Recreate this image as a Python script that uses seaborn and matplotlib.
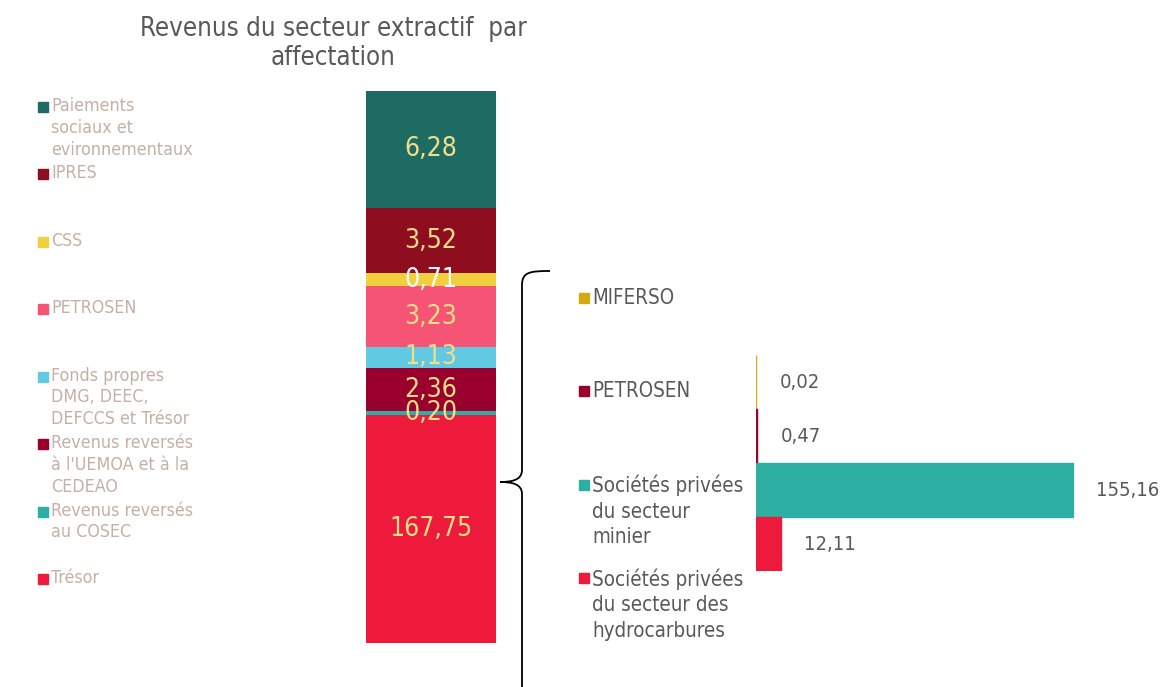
import numpy as np
import pandas as pd
import seaborn as sns
import matplotlib.pyplot as plt
from matplotlib.patches import Rectangle
from matplotlib.path import Path
from matplotlib.patches import PathPatch

# ---- data: stacked column (bottom -> top) ----
stack_labels = ["Trésor", "Revenus reversés\nau COSEC", "Revenus reversés\nà l'UEMOA et à la\nCEDEAO",
                "Fonds propres\nDMG, DEEC,\nDEFCCS et Trésor", "PETROSEN", "CSS", "IPRES",
                "Paiements\nsociaux et\nevironnementaux"]
stack_values = [167.75, 0.20, 2.36, 1.13, 3.23, 0.71, 3.52, 6.28]
stack_colors = ["#EE1A3B", "#2BAFA4", "#9A002E", "#62C9E2", "#F55475", "#F2D03D", "#8E0E20", "#1D6B62"]

# ---- data: horizontal bars ----
bar_labels = ["MIFERSO", "PETROSEN", "Sociétés privées\ndu secteur\nminier",
              "Sociétés privées\ndu secteur des\nhydrocarbures"]
bar_values = [0.02, 0.47, 155.16, 12.11]
bar_colors = ["#D4AA0F", "#9A002E", "#2DAFA4", "#EE1A3B"]

W, H = 1160, 687


def fx(x):
    return x / W


def fy(y):
    return 1 - y / H


def fmt(v):
    return "{:.2f}".format(v).replace(".", ",")


sns.set_style("white")
plt.rcParams["font.family"] = ["DejaVu Sans"]
plt.rcParams["font.stretch"] = "condensed"

fig = plt.figure(figsize=(W / 100, H / 100), dpi=100)

# title
fig.text(fx(333), fy(16), "Revenus du secteur extractif  par\naffectation", ha="center", va="top",
         fontsize=18.5, color="#595959", linespacing=1.15)

# ---- stacked column ----
ax1 = fig.add_axes([fx(366), fy(643), fx(130), (643 - 91) / H])
ylo = 155.5
cum = np.cumsum(stack_values)
# draw cumulative totals from the top down so each segment shows
for i in range(len(cum) - 1, -1, -1):
    sns.barplot(x=["x"], y=[cum[i]], color=stack_colors[i], width=1, saturation=1,
                linewidth=0, ax=ax1)
ax1.set_xlim(-0.5, 0.5)
ax1.set_ylim(ylo, cum[-1])
ax1.axis("off")

bottoms = np.concatenate([[0], cum[:-1]])
for b, v in zip(bottoms, stack_values):
    mid = (max(b, ylo) + b + v) / 2
    col = "white" if v == 0.71 else "#F3DE8A"
    ax1.text(0, mid, fmt(v), ha="center", va="center", fontsize=19, color=col)

# legend for stacked column (top entry first)
leg_y = np.linspace(107, 579, len(stack_labels))
for yy, lab, col in zip(leg_y, stack_labels[::-1], stack_colors[::-1]):
    fig.patches.append(Rectangle((fx(38), fy(yy + 5)), fx(10), 10 / H, color=col,
                                 transform=fig.transFigure))
    fig.text(fx(51), fy(yy - 10), lab, ha="left", va="top", fontsize=12.8, color="#C4B0A4",
             linespacing=1.27)

# ---- horizontal bars ----
ax2 = fig.add_axes([fx(756), fy(571), fx(W - 756), (571 - 355) / H])
df_bar = pd.DataFrame({"cat": bar_labels, "val": bar_values})
sns.barplot(data=df_bar, x="val", y="cat", hue="cat", palette=bar_colors, orient="h",
            width=1, saturation=1, legend=False, ax=ax2, linewidth=1)
for cont, col in zip(ax2.containers, bar_colors):
    for p in cont:
        p.set_edgecolor(col)
    ax2.bar_label(cont, labels=[fmt(v) for v in cont.datavalues], padding=17,
                  fontsize=14.5, color="#595959")
ax2.set_xlim(0, (W - 756) / 2.04)
ax2.set_ylim(3.5, -0.5)
ax2.axis("off")

# legend for horizontal bars
leg2_y = np.linspace(298, 578, len(bar_labels))
for yy, lab, col in zip(leg2_y, bar_labels, bar_colors):
    fig.patches.append(Rectangle((fx(579), fy(yy + 5)), fx(10), 10 / H, color=col,
                                 transform=fig.transFigure))
    fig.text(fx(592), fy(yy - 10), lab, ha="left", va="top", fontsize=14.8, color="#595959",
             linespacing=1.35)

# ---- curly brace ----
pts = [(550, 271), (530, 271), (522, 272), (522, 285),
       (522, 470),
       (522, 480), (512, 482), (500, 482),
       (512, 482), (522, 484), (522, 494),
       (522, 690)]
codes = [Path.MOVETO, Path.CURVE4, Path.CURVE4, Path.CURVE4,
         Path.LINETO,
         Path.CURVE4, Path.CURVE4, Path.CURVE4,
         Path.CURVE4, Path.CURVE4, Path.CURVE4,
         Path.LINETO]
brace = Path([(fx(x), fy(y)) for x, y in pts], codes)
fig.patches.append(PathPatch(brace, fill=False, lw=1.3, edgecolor="black", transform=fig.transFigure))

fig.savefig("out.png", dpi=100, facecolor="white")
